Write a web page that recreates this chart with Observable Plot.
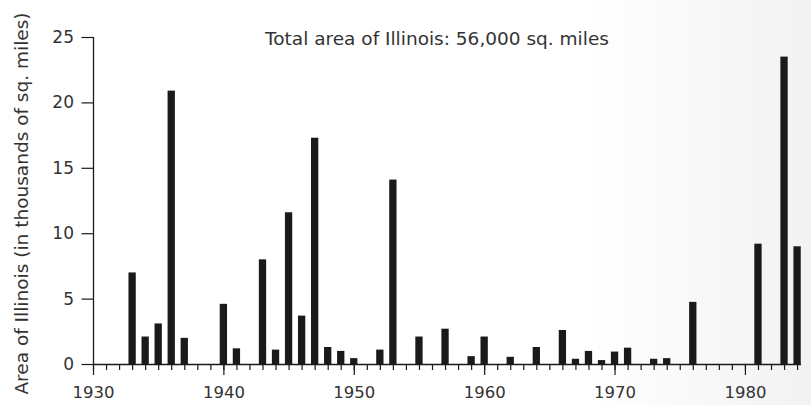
<!DOCTYPE html>
<html>
<head>
<meta charset="utf-8">
<script src="https://cdn.jsdelivr.net/npm/d3@7"></script>
<script src="https://cdn.jsdelivr.net/npm/@observablehq/plot@0.6"></script>
<style>
  html, body { margin: 0; padding: 0; background: #fff; }
  body { width: 811px; height: 405px; overflow: hidden;
         background: linear-gradient(to right, #ffffff 0%, #ffffff 72%, #f2f2f2 100%); }
  #chart svg { display: block; background: transparent; }
</style>
</head>
<body>
<div id="chart"></div>
<script>
const years  = [1933, 1934, 1935, 1936, 1937, 1940, 1941, 1943, 1944, 1945, 1946, 1947, 1948, 1949, 1950,
                1952, 1953, 1955, 1957, 1959, 1960, 1962, 1964, 1966, 1967, 1968, 1969, 1970, 1971,
                1973, 1974, 1976, 1981, 1983, 1984];
const values = [7.0, 2.1, 3.1, 20.9, 2.0, 4.6, 1.2, 8.0, 1.1, 11.6, 3.7, 17.3, 1.3, 1.0, 0.45,
                1.1, 14.1, 2.1, 2.7, 0.6, 2.1, 0.55, 1.3, 2.6, 0.4, 1.0, 0.3, 0.95, 1.25,
                0.4, 0.45, 4.75, 9.2, 23.5, 9.0];
const decadeTicks = [1930, 1940, 1950, 1960, 1970, 1980];
const yearTicks = d3.range(1930, 1985);
const yTicks = [0, 5, 10, 15, 20, 25];
const title = "Total area of Illinois: 56,000 sq. miles";
const yLabel = "Area of Illinois (in thousands of sq. miles)";

const data = years.map((year, i) => ({year, value: values[i]}));
const font = "'DejaVu Sans', 'Liberation Sans', Arial, sans-serif";
const ink = "#1a1a1a";
const textInk = "#333";

const chart = Plot.plot({
  width: 811,
  height: 405,
  marginLeft: 93,
  marginRight: 10,
  marginTop: 37,
  marginBottom: 41,
  style: {fontFamily: font, fontSize: "16.5px", background: "transparent", color: textInk},
  x: {domain: [1930, 1984.3], axis: null},
  y: {domain: [0, 25], axis: null},
  marks: [
    Plot.rectY(data, {
      x1: d => d.year - 0.28,
      x2: d => d.year + 0.28,
      y: "value",
      fill: ink
    }),
    Plot.ruleY([0], {stroke: ink, strokeWidth: 1.4}),
    Plot.ruleX([1930], {y1: 0, y2: 25, stroke: ink, strokeWidth: 1.3}),
    Plot.axisX(yearTicks, {tickSize: 6, text: null, stroke: ink, strokeWidth: 1.2}),
    Plot.axisX(decadeTicks, {
      tickSize: 11, tickPadding: 11, stroke: ink, strokeWidth: 1.2,
      tickFormat: d => String(d), fontSize: 16.5, fill: textInk
    }),
    Plot.axisY(yTicks, {
      tickSize: 11.5, tickPadding: 8, stroke: ink, strokeWidth: 1.2,
      fontSize: 17, fill: textInk, label: null
    }),
    Plot.text([title], {
      frameAnchor: "top", dx: -10.5, dy: 1.5, fontSize: 18.5, fill: textInk, lineAnchor: "middle"
    }),
    Plot.text([yLabel], {
      frameAnchor: "left", textAnchor: "middle", dx: -71, dy: 2.5, rotate: -90,
      fontSize: 18.5, fill: textInk
    })
  ]
});
document.getElementById("chart").appendChild(chart);
</script>
</body>
</html>
